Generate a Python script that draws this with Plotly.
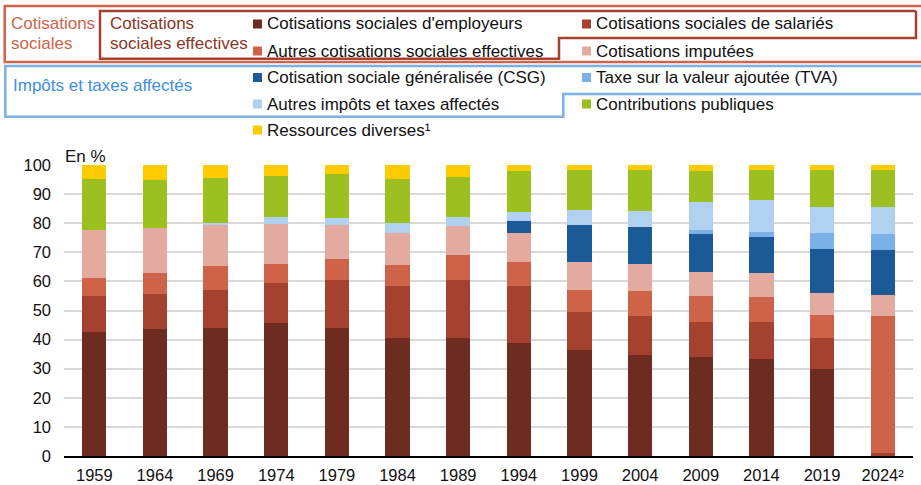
import plotly.graph_objects as go

years = ['1959', '1964', '1969', '1974', '1979', '1984', '1989', '1994',
         '1999', '2004', '2009', '2014', '2019', '2024²']
employeurs = [42.6, 43.5, 44.1, 45.6, 44.1, 40.7, 40.7, 38.7, 36.3, 34.8, 34.1, 33.4, 29.8, 0]
salaries = [12.5, 12.2, 12.8, 13.7, 16.3, 17.6, 19.7, 19.6, 13.1, 13.3, 12.1, 12.5, 10.6, 0.9]
autres_eff = [6.1, 7.3, 8.4, 6.8, 7.4, 7.4, 8.6, 8.5, 7.7, 8.7, 8.9, 8.7, 8.2, 47.3]
imputees = [16.5, 15.2, 14.0, 13.7, 11.7, 10.8, 10.1, 9.9, 9.5, 9.2, 8.2, 8.2, 7.4, 7.1]
csg = [0, 0, 0, 0, 0, 0, 0, 3.9, 12.8, 12.8, 13.0, 12.6, 15.2, 15.5]
tva = [0, 0, 0, 0, 0, 0, 0, 0, 0, 0, 1.2, 1.6, 5.5, 5.5]
autres_imp = [0, 0, 0.8, 2.5, 2.3, 3.5, 3.0, 3.2, 5.1, 5.4, 9.7, 11.0, 8.9, 9.3]
contrib = [17.5, 16.8, 15.5, 14.0, 15.0, 15.3, 13.9, 14.2, 13.9, 14.2, 10.8, 10.2, 12.8, 12.8]
ressources = [4.8, 5.0, 4.4, 3.7, 3.2, 4.7, 4.0, 2.0, 1.6, 1.6, 2.0, 1.8, 1.6, 1.6]

series_names = ["Cotisations sociales d'employeurs", "Cotisations sociales de salariés",
                "Autres cotisations sociales effectives", "Cotisations imputées",
                "Cotisation sociale généralisée (CSG)", "Taxe sur la valeur ajoutée (TVA)",
                "Autres impôts et taxes affectés", "Contributions publiques",
                "Ressources diverses¹"]
series_values = [employeurs, salaries, autres_eff, imputees, csg, tva, autres_imp, contrib, ressources]
colors = ['#6e2b1f', '#a5412f', '#cf634a', '#e5aa9f', '#1b5a96', '#7ab1e6', '#b0d1f0', '#9bc020', '#ffcc00']

W, H = 921, 485
ML, MR, MT, MB = 64, 8, 165, 29
PW, PH = W - ML - MR, H - MT - MB
FONT = 'Arial, Liberation Sans, sans-serif'

def px(x):
    return (x - ML) / PW

def py(y):
    return (H - MB - y) / PH

fig = go.Figure()
for name, vals, col in zip(series_names, series_values, colors):
    fig.add_trace(go.Bar(x=years, y=[v if v else None for v in vals], name=name,
                         marker=dict(color=col, line=dict(width=0)), showlegend=False))

shapes = []
annotations = []

def poly(points, color):
    path = 'M ' + ' L '.join(f'{px(a):.5f},{py(b):.5f}' for a, b in points)
    shapes.append(dict(type='path', path=path, xref='paper', yref='paper',
                       line=dict(color=color, width=2.5), layer='above'))

# outer "Cotisations sociales" box
poly([(940, 6), (4.7, 6), (4.7, 62), (940, 62)], '#d0634a')
# inner "Cotisations sociales effectives" box
poly([(916, 11), (100, 11), (100, 58.7), (559, 58.7), (559, 38), (916, 38), (916, 11)], '#a5412f')
# "Impôts et taxes affectés" box
poly([(940, 66), (5.3, 66), (5.3, 116.7), (563.3, 116.7), (563.3, 94), (940, 94)], '#7ab1e6')

def text(x, y, s, color='#111111', size=17):
    annotations.append(dict(x=px(x), y=py(y), xref='paper', yref='paper', text=s,
                            showarrow=False, xanchor='left', yanchor='middle',
                            font=dict(family=FONT, size=size, color=color)))

text(9, 23, 'Cotisations', '#d0634a')
text(9, 44, 'sociales', '#d0634a')
text(108, 23, 'Cotisations', '#8e3525')
text(108, 44, 'sociales effectives', '#8e3525')
text(11, 85, 'Impôts et taxes affectés', '#3e8fe0')

legend_pos = [(253, 24), (582, 24), (253, 51), (582, 51), (253, 77.5), (582, 77.5),
              (253, 104), (582, 104), (253, 130)]
for (x, y), name, col in zip(legend_pos, series_names, colors):
    shapes.append(dict(type='rect', xref='paper', yref='paper', x0=px(x), x1=px(x + 9),
                       y0=py(y - 4.5), y1=py(y + 4.5), fillcolor=col, line=dict(width=0)))
    text(x + 12, y, name)

text(63, 156, 'En %', '#111111', 17)

fig.update_layout(
    width=W, height=H, margin=dict(l=ML, r=MR, t=MT, b=MB, autoexpand=False),
    barmode='stack', bargap=0.6,
    plot_bgcolor='white', paper_bgcolor='white',
    font=dict(family=FONT, size=16.5, color='#111111'),
    shapes=shapes, annotations=annotations,
    xaxis=dict(showline=True, linecolor='#000000', linewidth=2, showgrid=False, automargin=False,
               ticks='', tickfont=dict(size=16.5), ticklabelstandoff=3),
    yaxis=dict(range=[0, 100], dtick=10, showgrid=True, gridcolor='#d9d9d9', gridwidth=2,
               automargin=False, zeroline=False, ticks='', tickfont=dict(size=16.5),
               ticklabelstandoff=12),
)

fig.write_html('out.html', config={'displayModeBar': False},
               post_script="document.body.style.margin='0';document.body.style.overflow='hidden';")
